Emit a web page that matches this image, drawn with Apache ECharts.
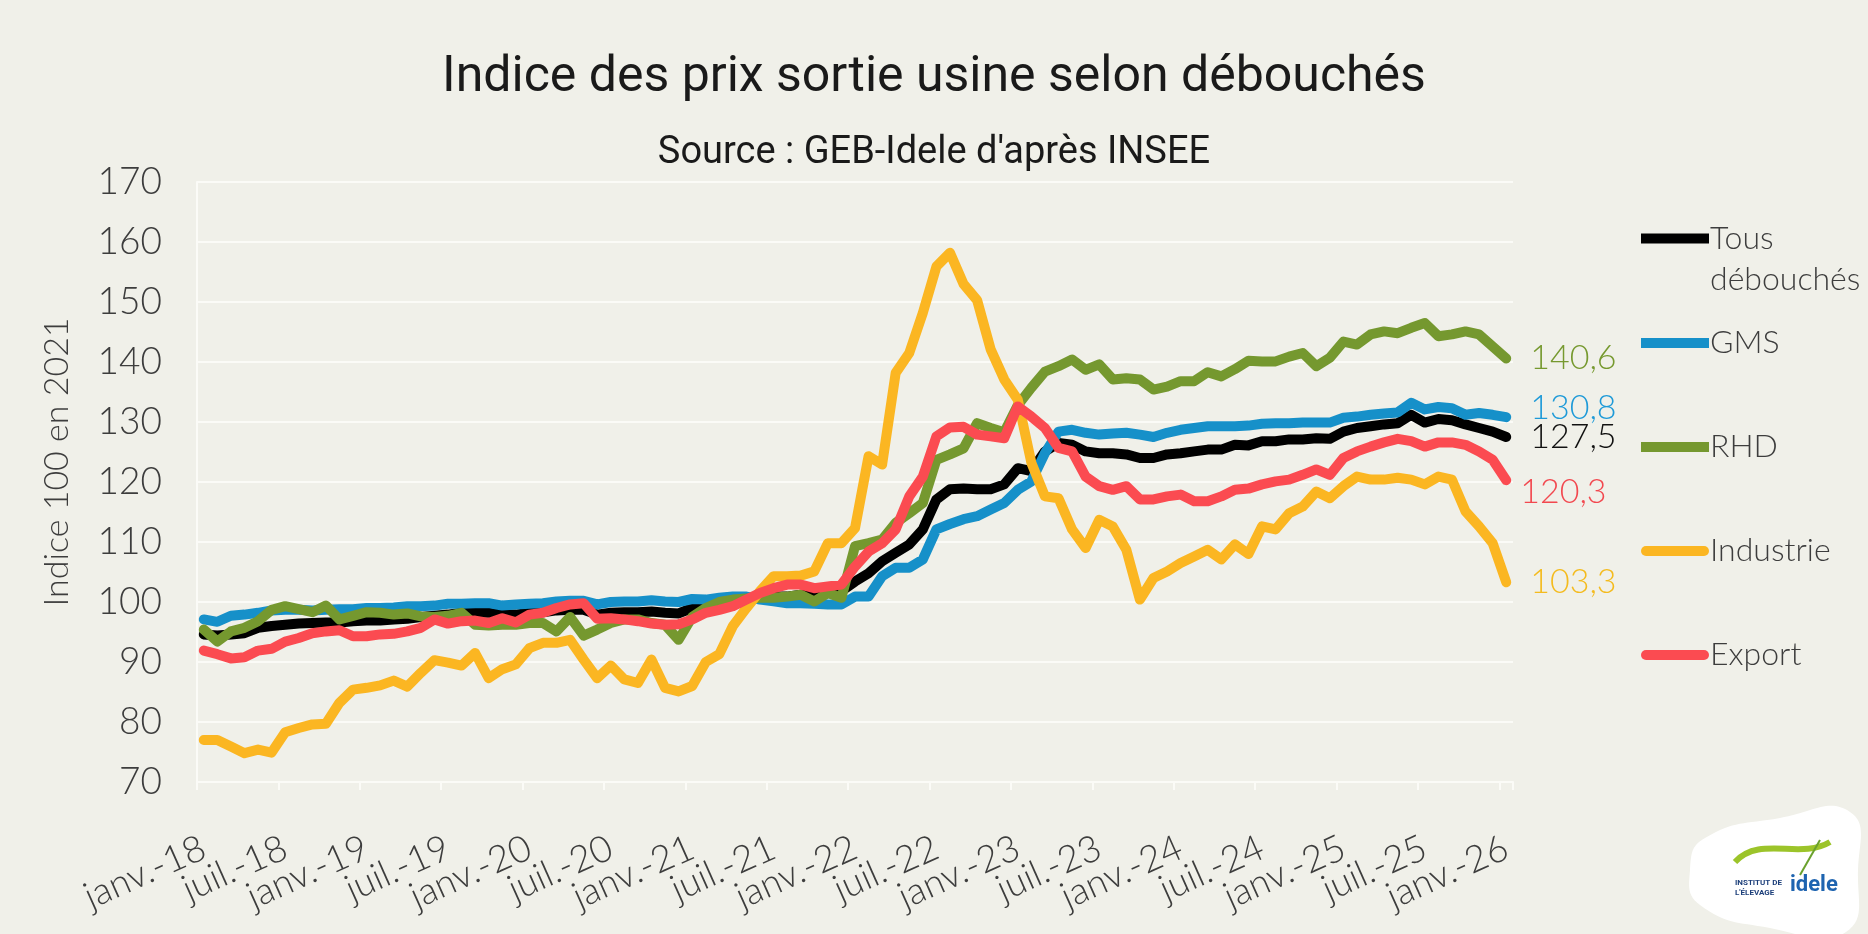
<!DOCTYPE html>
<html><head><meta charset="utf-8">
<script src="https://cdn.jsdelivr.net/npm/echarts@6/dist/echarts.min.js"></script>
<style>html,body{margin:0;padding:0;background:#f0f0e9;}#c{width:1868px;height:934px;}</style>
</head><body><div id="c"></div>
<script>
// Month labels (Jan 2018 .. Jan 2026)
const monthNames = ['janv.','févr.','mars','avr.','mai','juin','juil.','août','sept.','oct.','nov.','déc.'];
const categories = [];
for (let y = 18; y <= 26; y++) {
  for (let m = 0; m < 12; m++) {
    if (y === 26 && m > 0) break;
    categories.push(monthNames[m] + '-' + y);
  }
}
const yTicks = { min: 70, max: 170, interval: 10 };

const tousDebouches = [94.6,94.4,94.6,94.8,95.7,96.0,96.2,96.4,96.5,96.6,96.6,96.8,96.9,96.9,97.1,97.2,97.5,97.7,97.9,98.2,98.2,98.2,97.9,97.9,98.2,98.3,98.6,98.7,98.7,97.9,98.2,98.3,98.3,98.4,98.2,98.1,99.0,99.8,100.1,100.4,100.7,100.7,100.9,100.9,101.2,101.5,101.5,101.8,103.4,104.8,106.8,108.2,109.6,112.1,117.1,118.8,118.9,118.8,118.8,119.6,122.3,121.8,125.1,126.5,126.2,125.1,124.8,124.8,124.6,124.0,124.0,124.6,124.8,125.1,125.4,125.4,126.2,126.1,126.8,126.8,127.1,127.1,127.3,127.2,128.4,129.0,129.3,129.6,129.8,131.2,129.9,130.5,130.3,129.6,129.0,128.4,127.5];
const gms = [97.1,96.7,97.7,97.9,98.2,98.6,98.7,98.7,98.6,98.7,98.8,98.8,99.0,99.0,99.1,99.3,99.3,99.4,99.7,99.7,99.8,99.8,99.4,99.6,99.7,99.8,100.1,100.2,100.2,99.6,100.0,100.1,100.1,100.3,100.1,100.0,100.5,100.4,100.7,100.9,100.9,100.4,100.1,99.8,99.8,99.7,99.6,99.6,100.9,100.9,104.3,105.7,105.7,107.1,112.1,113.0,113.8,114.3,115.4,116.5,118.7,120.1,124.8,128.4,128.7,128.2,127.9,128.1,128.2,127.9,127.5,128.2,128.7,129.0,129.3,129.3,129.3,129.4,129.7,129.8,129.8,129.9,129.9,129.9,130.7,130.9,131.2,131.4,131.6,133.2,132.1,132.5,132.3,131.2,131.5,131.2,130.8];
const rhd = [95.4,93.4,95.1,95.7,96.8,98.7,99.3,98.8,98.3,99.4,97.1,97.7,98.3,98.2,97.9,98.1,97.6,97.5,97.7,98.2,96.2,96.1,96.2,96.2,96.5,96.5,95.1,97.5,94.4,95.4,96.5,97.1,97.1,96.5,96.2,93.7,97.5,99.0,100.0,100.4,100.6,100.7,100.7,100.9,101.2,100.1,101.5,100.7,109.3,109.8,110.4,113.2,114.8,116.5,123.7,124.6,125.6,129.8,129.0,128.3,132.8,135.7,138.4,139.3,140.4,138.7,139.6,137.1,137.3,137.1,135.4,135.9,136.8,136.8,138.3,137.6,138.8,140.2,140.1,140.1,140.9,141.5,139.3,140.7,143.4,142.9,144.6,145.1,144.8,145.7,146.5,144.3,144.6,145.1,144.6,142.6,140.6];
const industrie = [77.0,77.0,75.9,74.8,75.4,74.9,78.3,79.0,79.6,79.7,83.2,85.4,85.7,86.1,86.9,85.9,88.2,90.3,89.9,89.4,91.5,87.3,88.8,89.6,92.3,93.2,93.2,93.7,90.4,87.3,89.4,87.1,86.5,90.4,85.7,85.1,86.0,90.0,91.3,96.0,99.0,101.8,104.3,104.3,104.4,105.1,109.8,109.8,112.3,124.3,122.9,138.2,141.5,148.2,155.9,158.2,153.0,150.3,142.1,137.1,133.7,123.2,117.6,117.3,112.1,109.0,113.7,112.6,108.7,100.4,104.0,105.1,106.5,107.6,108.7,107.1,109.6,108.0,112.6,112.1,114.8,115.9,118.4,117.3,119.3,120.9,120.4,120.4,120.7,120.4,119.6,120.9,120.4,115.1,112.6,109.8,103.3];
const exportSeries = [91.9,91.3,90.6,90.8,91.9,92.2,93.4,94.0,94.8,95.1,95.3,94.3,94.3,94.6,94.7,95.1,95.7,97.1,96.4,96.8,96.9,96.5,97.3,96.6,97.9,98.2,99.0,99.6,99.8,97.2,97.3,97.1,96.8,96.4,96.2,96.3,97.1,98.2,98.7,99.3,100.4,101.5,102.3,102.9,102.9,102.3,102.6,102.9,105.9,108.4,109.8,112.1,117.6,120.9,127.6,129.1,129.2,127.9,127.6,127.3,132.6,130.9,129.0,125.7,125.1,120.9,119.3,118.7,119.3,117.1,117.1,117.6,117.9,116.8,116.8,117.6,118.7,118.9,119.6,120.1,120.4,121.2,122.1,121.2,124.0,125.1,125.9,126.6,127.2,126.8,125.9,126.6,126.6,126.2,125.1,123.7,120.3];

const seriesNames = ['Tous débouchés','GMS','RHD','Industrie','Export'];
const seriesData = [tousDebouches, gms, rhd, industrie, exportSeries];
const lineColors = ['#000000','#1690c9','#75982f','#fbb622','#fb4b51'];
const labelColors = ['#111111','#1e9ad8','#76992f','#f4bb1e','#f2484f'];
const labelOffsets = [[0,0],[0,-9],[0,0],[0,0],[-10,12]];
const legendTops = [177,324,428,532,636];

const baseFont = 'Lato, "Open Sans", sans-serif';
const titleFont = 'Roboto, "Liberation Sans", sans-serif';
const textGrey = '#3d3d3d';
const capsule = 'path://M5,0 L63,0 A5,5 0 0 1 63,10 L5,10 A5,5 0 0 1 5,0 Z';
const xLabelStyle = { rotate: 24, margin: 64, fontFamily: baseFont, fontWeight: 300, fontSize: 37, color: textGrey };
const lastIdx = categories.length - 1;

const chart = echarts.init(document.getElementById('c'), null, {renderer:'canvas'});
chart.setOption({
  backgroundColor: '#f0f0e9',
  animation: false,
  title: [
    { text: 'Indice des prix sortie usine selon débouchés', left: 'center', top: 48,
      textStyle: { fontFamily: titleFont, fontSize: 50, fontWeight: 'normal', color: '#1a1a1a' } },
    { text: "Source : GEB-Idele d'après INSEE", left: 'center', top: 129,
      textStyle: { fontFamily: titleFont, fontSize: 38, fontWeight: 'normal', color: '#1a1a1a' } }
  ],
  grid: { left: 197, right: 355, top: 182, bottom: 152, containLabel: false },
  xAxis: [
    {
      type: 'category', data: categories, boundaryGap: true, position: 'bottom',
      axisLine: { show: true, lineStyle: { color: '#fbfbf7', width: 2 } },
      axisTick: { show: true, interval: 5, length: 8, lineStyle: { color: '#fbfbf7', width: 2 } },
      axisLabel: Object.assign({ interval: 5, showMinLabel: false, showMaxLabel: false }, xLabelStyle),
      splitLine: { show: false }
    },
    {
      type: 'category', data: categories, boundaryGap: true, position: 'bottom', offset: 0,
      axisLine: { show: false }, axisTick: { show: false }, splitLine: { show: false },
      axisLabel: Object.assign({ interval: (idx) => idx === 0 || idx === lastIdx }, xLabelStyle)
    }
  ],
  yAxis: {
    type: 'value', min: yTicks.min, max: yTicks.max, interval: yTicks.interval,
    name: 'Indice 100 en 2021', nameLocation: 'middle', nameGap: 123,
    nameTextStyle: { fontFamily: baseFont, fontWeight: 300, fontSize: 34, color: textGrey, padding: [0,0,0,40] },
    axisLine: { show: true, lineStyle: { color: '#fbfbf7', width: 2 } },
    axisTick: { show: false },
    axisLabel: { margin: 35, fontFamily: baseFont, fontWeight: 300, fontSize: 37, color: textGrey },
    splitLine: { show: true, lineStyle: { color: '#fbfbf7', width: 2 } }
  },
  legend: seriesNames.map((n, i) => ({
    data: [n], orient: 'vertical', left: 1641, top: legendTops[i], padding: 0,
    itemWidth: 68, itemHeight: 10, selectedMode: false,
    icon: i < 3 ? 'rect' : capsule,
    formatter: i === 0 ? '\nTous\ndébouchés' : '{name}',
    textStyle: i === 0
      ? { fontFamily: baseFont, fontWeight: 300, fontSize: 32, color: textGrey, lineHeight: 41, padding: [0,0,0,-4] }
      : { fontFamily: baseFont, fontWeight: 300, fontSize: 32, color: textGrey, lineHeight: 38, padding: [0,0,0,-4] }
  })),
  series: seriesNames.map((n, i) => ({
    name: n, type: 'line', data: seriesData[i], symbol: 'none', xAxisIndex: 0,
    lineStyle: { color: lineColors[i], width: 10, cap: 'round', join: 'round' },
    itemStyle: { color: lineColors[i] },
    z: 2 + i,
    endLabel: {
      show: true, distance: 24, offset: labelOffsets[i],
      formatter: p => Number(p.value).toFixed(1).replace('.', ','),
      fontFamily: baseFont, fontWeight: 300, fontSize: 34, color: labelColors[i]
    }
  })),
  graphic: [
    { type: 'polygon', shape: { points: [[1705,838],[1780,818],[1850,812],[1858,870],[1846,932],[1770,928],[1700,905],[1690,870]], smooth: 0.5 },
      style: { fill: '#ffffff' }, z: 1 },
    { type: 'bezierCurve', shape: { x1: 1735, y1: 862, x2: 1830, y2: 842, cpx1: 1760, cpy1: 835, cpx2: 1800, cpy2: 860 },
      style: { stroke: '#9cc42a', lineWidth: 6, fill: null }, z: 2 },
    { type: 'line', shape: { x1: 1800, y1: 875, x2: 1820, y2: 840 }, style: { stroke: '#6aa12d', lineWidth: 2 }, z: 2 },
    { type: 'text', left: 1735, top: 878, style: { text: 'INSTITUT DE\nL\'ÉLEVAGE', fontSize: 8, lineHeight: 10, fontWeight: 'bold', fill: '#1d3f7a', fontFamily: 'Roboto' }, z: 3 },
    { type: 'text', left: 1790, top: 874, style: { text: 'idele', fontSize: 22, fontWeight: 'bold', fill: '#1e64b0', fontFamily: 'Roboto' }, z: 3 }
  ]
});
</script></body></html>
